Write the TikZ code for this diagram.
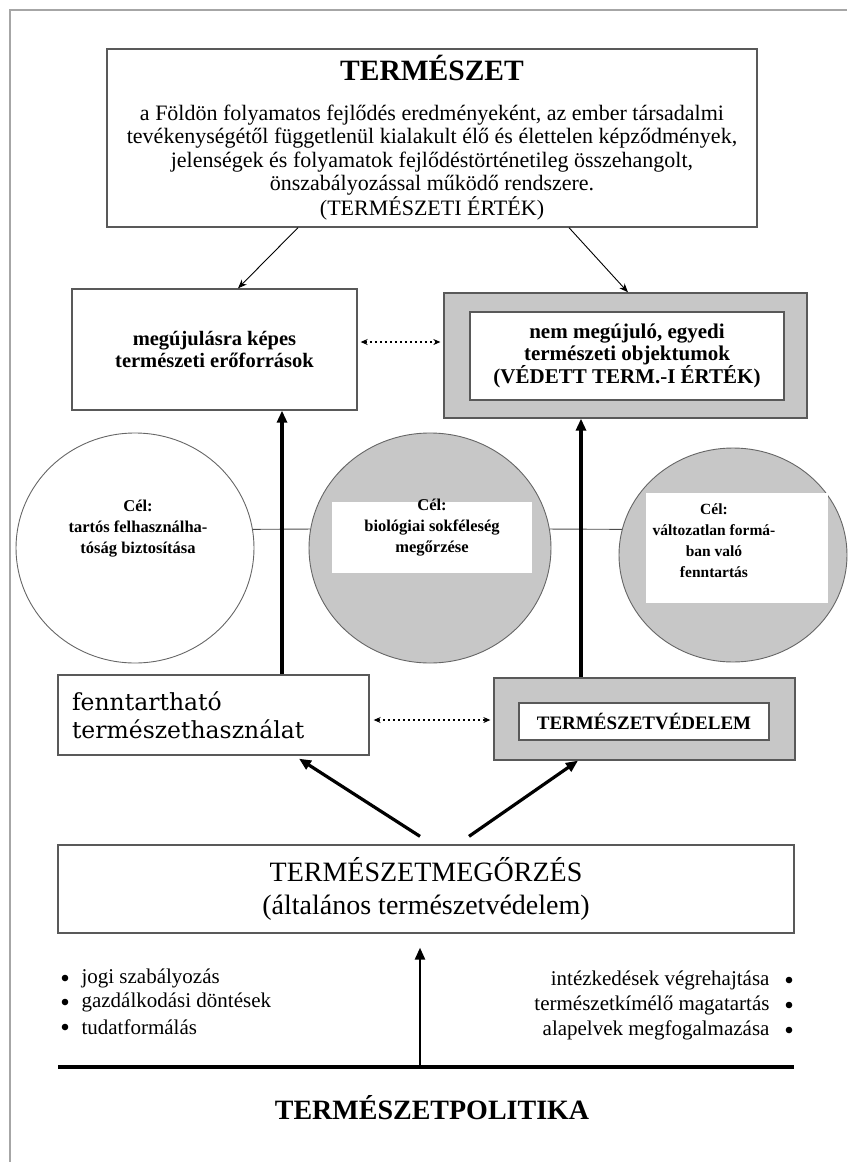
\documentclass[tikz,border=0pt]{standalone}
\usepackage{fontspec}
\setmainfont{Liberation Serif}
\newfontfamily\slabfont{DejaVu Serif}
\usetikzlibrary{arrows.meta,shapes.geometric}
\tikzset{>=Stealth}
\definecolor{keret}{gray}{0.35}
\definecolor{szurke}{gray}{0.78}
\tikzset{
  doboz/.style={draw=keret, line width=1.3pt, rectangle, inner sep=0pt},
  szurkedoboz/.style={doboz, fill=szurke},
  feherdoboz/.style={doboz, fill=white},
  kor/.style={ellipse, draw=black!60, line width=0.9pt, inner sep=0pt},
  vastag/.style={line width=3.2pt, -{Triangle[length=12pt,width=10pt]}},
  vekony/.style={line width=0.9pt, -{Stealth[length=9pt,width=7pt]}},
  pontozott/.style={line width=1.1pt, dash pattern=on 2.5pt off 2.5pt, {Stealth[length=7pt,width=6pt]}-{Stealth[length=7pt,width=6pt]}},
  celszoveg/.style={align=center, font=\fontsize{16.5}{21}\selectfont\bfseries}
}

\begin{document}
\begin{tikzpicture}[x=1pt,y=-1pt]
	\useasboundingbox (0,0) rectangle (847,1162);
	\draw [gray!70, line width=1.2pt] (10,1162) -- (10,10) -- (847,10);

	\node [doboz, minimum width=650, minimum height=178, align=center, font=\fontsize{22}{23.5}\selectfont] (termeszet) at (432,138)
	{{\fontsize{29.5}{30}\selectfont\bfseries TERMÉSZET}\\[16pt]
	a Földön folyamatos fejlődés eredményeként, az ember társadalmi\\
	tevékenységétől függetlenül kialakult élő és élettelen képződmények,\\
	jelenségek és folyamatok fejlődéstörténetileg összehangolt,\\
	önszabályozással működő rendszere.\\
	(TERMÉSZETI ÉRTÉK)};

	\node [doboz, minimum width=285, minimum height=121, align=center, font=\fontsize{20.5}{22}\selectfont\bfseries] (megujulo) at (214.5,349.5)
	{megújulásra képes\\természeti erőforrások};
	\node [szurkedoboz, minimum width=363, minimum height=125] (egyedi) at (625.5,355.5) {};
	\node [feherdoboz, minimum width=314, minimum height=88, align=center, font=\fontsize{21}{21.5}\selectfont\bfseries] (egyedibelso) at (627,356)
	{nem megújuló, egyedi\\természeti objektumok\\(VÉDETT TERM.-I ÉRTÉK)};

	\draw [vekony] ([xshift=-134]termeszet.south) -- ([xshift=23.5]megujulo.north);
	\draw [vekony] ([xshift=137]termeszet.south) -- ([xshift=2.5]egyedi.north);
	\draw [pontozott] ([xshift=3,yshift=7.5]megujulo.east) -- ([xshift=-3,yshift=13.5]egyedi.west);

	\node [kor, minimum width=238, minimum height=230] (cel1) at (135,548) {};
	\node [kor, fill=szurke, minimum width=242, minimum height=230] (cel2) at (430,548) {};
	\node [kor, fill=szurke, minimum width=228, minimum height=214] (cel3) at (733,555) {};
	\draw [line width=0.9pt, black!70] (cel1.9) -- (cel2.171);
	\draw [line width=0.9pt, black!70] (cel2.9) -- (cel3.167);
	\node [fill=white, minimum width=200, minimum height=71, inner sep=0pt] (cel2feher) at (432,537.5) {};
	\node [fill=white, minimum width=182, minimum height=110, inner sep=0pt] (cel3feher) at (737,548) {};
	\node [celszoveg] (cel1szoveg) at (138,529) {Cél:\\tartós felhasználha-\\tóság biztosítása};
	\node [celszoveg] (cel2szoveg) at (432,528) {Cél:\\biológiai sokféleség\\megőrzése};
	\node [celszoveg, font=\fontsize{15.5}{21}\selectfont\bfseries] (cel3szoveg) at (714,540.5) {Cél:\\változatlan formá-\\ban való\\fenntartás};

	\node [doboz, minimum width=311, minimum height=80, text width=283, inner xsep=14pt, align=left, font=\slabfont\fontsize{23.5}{28}\selectfont] (fennt) at (213.5,715)
	{fenntartható\\természethasználat};
	\node [szurkedoboz, minimum width=301, minimum height=82] (vedelem) at (644.5,719) {};
	\node [feherdoboz, minimum width=250, minimum height=37, font=\fontsize{19}{20}\selectfont\bfseries] (vedelembelso) at (644,721.5) {TERMÉSZETVÉDELEM};
	\draw [pontozott] ([xshift=4,yshift=-5]fennt.east) -- ([xshift=-3,yshift=-1]vedelem.west);

	\coordinate (vbal) at (282,0);
	\coordinate (vjobb) at (581,0);
	\draw [vastag] (vbal |- fennt.north) -- (vbal |- megujulo.south);
	\draw [vastag] (vjobb |- vedelem.north) -- (vjobb |- egyedi.south);

	\node [doboz, minimum width=736, minimum height=88, align=center, font=\fontsize{28}{33}\selectfont] (megorzes) at (426,889)
	{TERMÉSZETMEGŐRZÉS\\(általános természetvédelem)};
	\draw [vastag] ([xshift=-6,yshift=8]megorzes.north) -- ([xshift=85.5,yshift=-3]fennt.south);
	\draw [vastag] ([xshift=43,yshift=8]megorzes.north) -- ([xshift=-66.5]vedelem.south);

	\coordinate (pbal) at (58,1067);
	\coordinate (pjobb) at (794,1067);
	\coordinate (ptalp) at (420,1067);
	\draw [line width=4.5pt] (pbal) -- (pjobb);
	\draw [vastag, line width=2.5pt] (ptalp) -- ([xshift=-6,yshift=-14]megorzes.south);

	\foreach \y/\t [count=\i] in {978/jogi szabályozás, 1002/gazdálkodási döntések, 1027/tudatformálás}
	{
		\fill (65,\y) circle (3.3);
		\node [anchor=west, font=\fontsize{21}{22}\selectfont] (bal\i) at (78,\y) {\t};
	}
	\foreach \y/\t [count=\i] in {980/intézkedések végrehajtása, 1005/természetkímélő magatartás, 1030/alapelvek megfogalmazása}
	{
		\fill (789,\y) circle (3.3);
		\node [anchor=east, font=\fontsize{21}{22}\selectfont] (jobb\i) at (773,\y) {\t};
	}

	\node [font=\fontsize{28}{30}\selectfont\bfseries] (politika) at (432,1108) {TERMÉSZETPOLITIKA};
\end{tikzpicture}
\end{document}
